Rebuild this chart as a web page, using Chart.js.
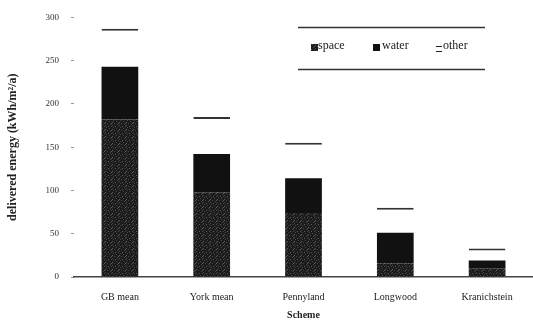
<!DOCTYPE html>
<html>
<head>
<meta charset="utf-8">
<script src="https://cdn.jsdelivr.net/npm/chart.js@4/dist/chart.umd.min.js"></script>
<style>
  html, body { margin: 0; padding: 0; background: #fff; }
  #wrap { width: 533px; height: 321px; }
</style>
</head>
<body>
<div id="wrap"><canvas id="energy_chart"></canvas></div>
<script>
const schemes = ["GB mean", "York mean", "Pennyland", "Longwood", "Kranichstein"];
const spaceValues = [182, 98, 74, 16, 10];
const waterValues = [61, 44, 40, 35, 9];
const otherValues = [44, 43, 41, 29, 14];
const yTicks = [0, 50, 100, 150, 200, 250, 300];

// speckled dark grey fill for the "space" part
const makeStipple = () => {
  const c = document.createElement("canvas");
  c.width = 7;
  c.height = 7;
  const g = c.getContext("2d");
  g.fillStyle = "#1c1c1c";
  g.fillRect(0, 0, 7, 7);
  g.fillStyle = "#444";
  [[1, 1], [4, 2], [2, 4], [5, 5], [0, 6], [6, 0]].forEach(([x, y]) => g.fillRect(x, y, 1, 1));
  g.fillStyle = "#5c5c5c";
  [[3, 0], [0, 3], [6, 4]].forEach(([x, y]) => g.fillRect(x, y, 1, 1));
  return g.createPattern(c, "repeat");
};

const serif = "'Liberation Serif', 'DejaVu Serif', serif";

const legendBox = {
  id: "legendBox",
  afterDraw(chart) {
    const ctx = chart.ctx;
    ctx.save();
    ctx.strokeStyle = "#333";
    ctx.lineWidth = 1.5;
    ctx.beginPath();
    ctx.moveTo(298, 27.5);
    ctx.lineTo(485, 27.5);
    ctx.moveTo(298, 69.5);
    ctx.lineTo(485, 69.5);
    ctx.stroke();

    ctx.font = "12px " + serif;
    ctx.textBaseline = "middle";
    const ds = chart.data.datasets;
    // space
    ctx.fillStyle = ds[0].backgroundColor;
    ctx.fillRect(311, 44, 7, 7);
    ctx.fillStyle = "#222";
    ctx.fillText(ds[0].label, 318, 46);
    // water
    ctx.fillStyle = ds[1].backgroundColor;
    ctx.fillRect(373, 44, 7, 7);
    ctx.fillStyle = "#222";
    ctx.fillText(ds[1].label, 382, 46);
    // other
    ctx.fillRect(436, 46, 6, 1);
    ctx.fillRect(436, 51, 6, 1);
    ctx.fillText(ds[2].label, 443, 46);
    ctx.restore();
  },
};

const ctx = document.getElementById("energy_chart");

new Chart(ctx, {
  type: "bar",
  data: {
    labels: schemes,
    datasets: [
      {
        label: "space",
        data: spaceValues,
        backgroundColor: makeStipple(),
        borderWidth: 0,
      },
      {
        label: "water",
        data: waterValues,
        backgroundColor: "#111",
        borderWidth: 0,
      },
      {
        label: "other",
        data: otherValues,
        backgroundColor: "#fff",
        borderColor: "#333",
        borderWidth: { top: 2, left: 0, right: 0, bottom: 0 },
        borderSkipped: false,
      },
    ],
  },
  options: {
    responsive: true,
    maintainAspectRatio: false,
    animation: false,
    categoryPercentage: 1,
    barPercentage: 0.4,
    layout: {
      padding: { top: 17, right: 0, left: 6, bottom: 0 },
    },
    plugins: {
      legend: { display: false },
      tooltip: { enabled: false },
    },
    scales: {
      x: {
        stacked: true,
        grid: { display: false },
        border: { display: true, color: "#444", width: 1.5 },
        ticks: {
          color: "#222",
          font: { family: serif, size: 10 },
          padding: 6,
        },
        title: {
          display: true,
          text: "Scheme",
          color: "#222",
          font: { family: serif, size: 10, weight: "bold" },
          padding: { top: 6, bottom: 0 },
        },
        afterFit: (scale) => {
          scale.height = 44;
        },
      },
      y: {
        stacked: true,
        min: 0,
        max: 300,
        afterBuildTicks: (scale) => {
          scale.ticks = yTicks.map((v) => ({ value: v }));
        },
        grid: {
          drawOnChartArea: false,
          drawTicks: true,
          tickLength: 3,
          color: "#999",
        },
        border: { display: false },
        ticks: {
          color: "#333",
          font: { family: serif, size: 9 },
          padding: 12,
        },
        title: {
          display: true,
          text: "delivered energy (kWh/m²/a)",
          color: "#222",
          font: { family: serif, size: 12, weight: "bold" },
          padding: { top: 0, bottom: 8 },
        },
        afterFit: (scale) => {
          scale.width = 68;
        },
      },
    },
  },
  plugins: [legendBox],
});
</script>
</body>
</html>
